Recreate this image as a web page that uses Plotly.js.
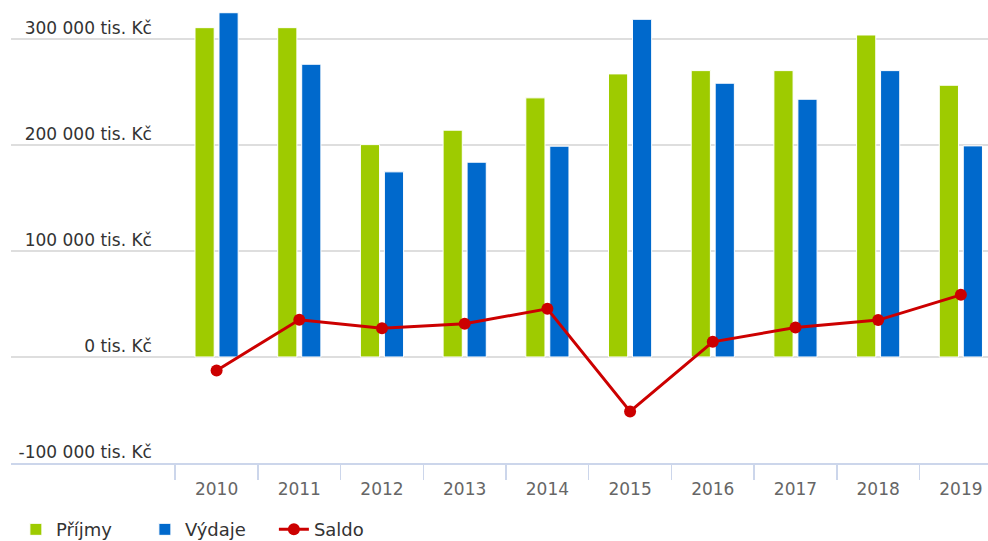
<!DOCTYPE html>
<html>
<head>
<meta charset="utf-8">
<script src="https://cdn.plot.ly/plotly-3.0.1.min.js"></script>
<style>html,body{margin:0;padding:0;background:#fff;}#chart{width:988px;height:541px;}</style>
</head>
<body>
<div id="chart"></div>
<script>
var years = [2010, 2011, 2012, 2013, 2014, 2015, 2016, 2017, 2018, 2019];
var yearLabels = ["2010", "2011", "2012", "2013", "2014", "2015", "2016", "2017", "2018", "2019"];
var prijmy = [310600, 310600, 200300, 213900, 244400, 267000, 270100, 270100, 303700, 256300];
var vydaje = [324700, 276100, 174600, 183700, 198800, 318500, 258200, 243100, 270100, 199100];
var saldo = [-12700, 35100, 27200, 31300, 45400, -51400, 14300, 27800, 34800, 58600];
var yTickVals = [-100000, 0, 100000, 200000, 300000];
var yTickText = ["-100 000 tis. Kč", "0 tis. Kč", "100 000 tis. Kč", "200 000 tis. Kč", "300 000 tis. Kč"];

var boundaries = years.map(function (y) { return y - 0.5; }).concat([years[years.length - 1] + 0.5]);

var font = "DejaVu Sans, Verdana, sans-serif";

var traces = [
  {
    type: "bar", name: "Příjmy", x: years, y: prijmy,
    marker: {color: "#9ecb00", line: {color: "#ffffff", width: 1}},
    hoverinfo: "none"
  },
  {
    type: "bar", name: "Výdaje", x: years, y: vydaje,
    marker: {color: "#0069cc", line: {color: "#ffffff", width: 1}},
    hoverinfo: "none"
  },
  {
    type: "scatter", mode: "lines+markers", name: "Saldo", x: years, y: saldo,
    line: {color: "#cc0000", width: 3},
    marker: {color: "#cc0000", size: 12, symbol: "circle"},
    hoverinfo: "none"
  }
];

var layout = {
  width: 988, height: 541,
  margin: {l: 11, r: 0, t: 0, b: 78, pad: 0},
  paper_bgcolor: "#ffffff", plot_bgcolor: "#ffffff",
  font: {family: font, size: 17, color: "#333333"},
  barmode: "group",
  bargap: 0.42,
  bargroupgap: 0.2,
  showlegend: true,
  legend: {
    orientation: "h", x: 0.005, xanchor: "left",
    yref: "container", y: 0.021, yanchor: "middle",
    font: {family: font, size: 18, color: "#333333"},
    itemwidth: 30, entrywidth: 84, entrywidthmode: "pixels",
    traceorder: "normal", bgcolor: "rgba(0,0,0,0)"
  },
  xaxis: {
    range: [2007.514, 2019.328],
    tickmode: "array", tickvals: years, ticktext: yearLabels,
    ticks: "", showgrid: false, zeroline: false,
    showline: true, linecolor: "#ccd6eb", linewidth: 1.5,
    tickfont: {family: font, size: 17, color: "#666666"},
    minor: {tickmode: "array", tickvals: boundaries, ticks: "outside", ticklen: 15, tickwidth: 1.5, tickcolor: "#ccd6eb", showgrid: false},
    ticklabelstandoff: 10,
    automargin: false,
    fixedrange: true
  },
  yaxis: {
    range: [-100000, 336700],
    anchor: "free", position: 0.1443,
    tickmode: "array", tickvals: yTickVals, ticktext: yTickText,
    ticks: "", showline: false, zeroline: false,
    showgrid: true, gridcolor: "#dedede", gridwidth: 1.5,
    tickfont: {family: font, size: 17, color: "#333333"},
    ticklabelshift: -11,
    automargin: false,
    fixedrange: true
  }
};

Plotly.newPlot("chart", traces, layout, {displayModeBar: false, staticPlot: true});
</script>
</body>
</html>
